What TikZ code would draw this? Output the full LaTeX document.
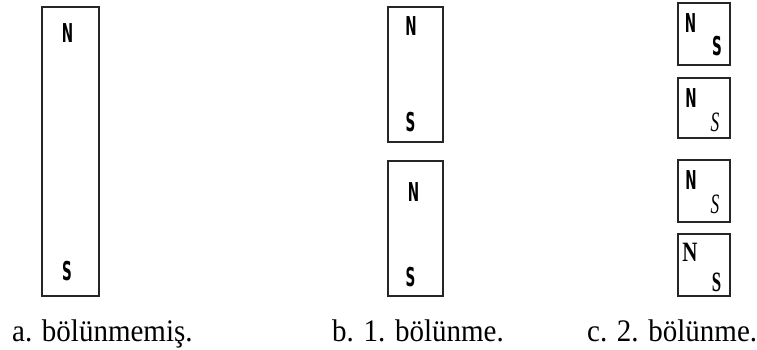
\documentclass[tikz,border=0pt]{standalone}
\usepackage{fontspec}
\setmainfont{Liberation Serif}
\newfontfamily\polesans{DejaVu Sans}
\newfontfamily\poleserif{Liberation Serif}
\begin{document}
\begin{tikzpicture}[x=1pt,y=-1pt,
  magnet/.style={draw=black!85,line width=1.3pt,inner sep=0pt,rectangle},
  pole/.style={inner sep=0pt,font=\polesans\bfseries\fontsize{26}{26}\selectfont},
  thinpole/.style={inner sep=0pt,font=\poleserif\itshape\fontsize{28}{28}\selectfont},
  serifpole/.style={inner sep=0pt,font=\poleserif\bfseries\fontsize{28}{28}\selectfont},
  caption/.style={anchor=base west,inner sep=0pt,font=\fontsize{29}{30}\selectfont}]
\useasboundingbox (0,0) rectangle (757,350);
\newcommand{\nar}[1]{\scalebox{0.52}[1]{#1}}
\newcommand{\thin}[1]{\scalebox{0.62}[1]{#1}}
\newcommand{\tall}[1]{\scalebox{1}[1.08]{#1}}

% a: whole magnet
\node[magnet,minimum width=57pt,minimum height=289pt] (ma) at (70.5,151.5) {};
\node[pole] (aN) at (67.5,33.5) {\nar{N}};
\node[pole] (aS) at (67,271) {\nar{S}};

% b: after one cut
\node[magnet,minimum width=55pt,minimum height=135pt] (mb1) at (415.5,74.5) {};
\node[pole] (b1N) at (411,26) {\nar{N}};
\node[pole] (b1S) at (410.5,122.5) {\nar{S}};
\node[magnet,minimum width=55pt,minimum height=135pt] (mb2) at (415.5,228.5) {};
\node[pole] (b2N) at (413.5,192) {\nar{N}};
\node[pole] (b2S) at (410.5,277.5) {\nar{S}};

% c: after two cuts
\node[magnet,minimum width=52pt,minimum height=62pt] (mc1) at (704,34) {};
\node[pole] (c1N) at (690.5,23) {\nar{N}};
\node[pole] (c1S) at (717,46.5) {\nar{S}};
\node[magnet,minimum width=52pt,minimum height=60pt] (mc2) at (704,108) {};
\node[pole] (c2N) at (691,98.5) {\nar{N}};
\node[thinpole] (c2S) at (715,122.5) {\thin{S}};
\node[magnet,minimum width=52pt,minimum height=62pt] (mc3) at (704,191) {};
\node[pole] (c3N) at (691,180) {\nar{N}};
\node[thinpole] (c3S) at (715,204) {\thin{S}};
\node[magnet,minimum width=52pt,minimum height=62pt] (mc4) at (704,265) {};
\node[serifpole] (c4N) at (690,252.5) {\scalebox{0.75}[1]{N}};
\node[serifpole] (c4S) at (716.5,282) {\scalebox{0.6}[1]{S}};

% captions
\node[caption] (ca) at (12,341) {\tall{a. bölünmemiş.}};
\node[caption] (cb) at (332,341) {\tall{b. 1. bölünme.}};
\node[caption] (cc) at (587,341) {\tall{c. 2. bölünme.}};
\end{tikzpicture}
\end{document}
